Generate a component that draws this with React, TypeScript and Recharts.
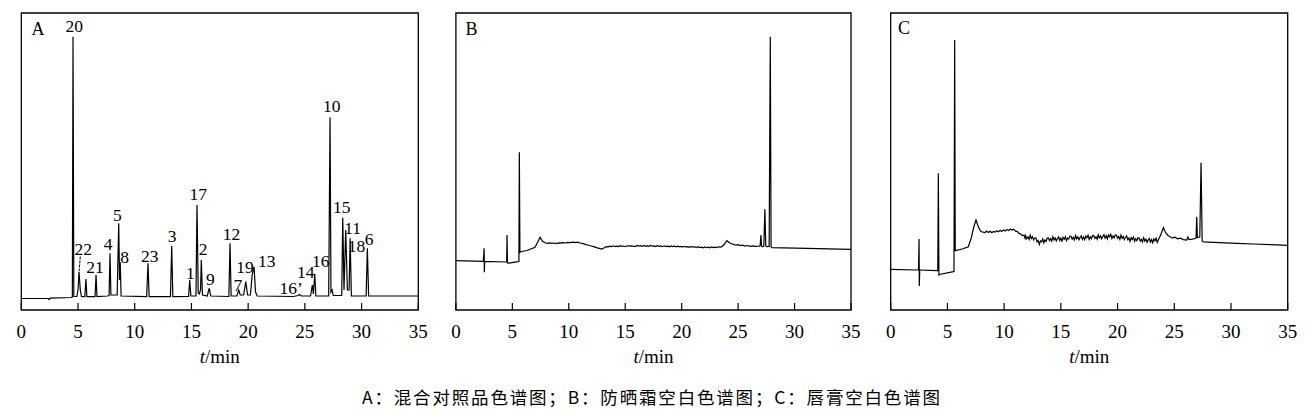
import React from 'react';
import { ComposedChart, Line, Scatter, XAxis, YAxis, ReferenceArea, ReferenceLine, Label } from 'recharts';

// retention time axis (min)
const timeTicks = [0, 5, 10, 15, 20, 25, 30, 35];

// Panel A: mixed standard chromatogram [time, signal]
const traceA: [number, number][] = [
  [0, 11.5], [2.4, 11.5], [2.45, 10.3], [2.55, 11.8], [4.4, 12.5],
  [4.5, 13], [4.56, 273.3], [4.63, 13.5],
  [4.9, 13.5], [5.0, 20], [5.09, 38.3], [5.2, 20], [5.3, 13.5],
  [5.6, 13.3], [5.7, 31], [5.78, 13.3],
  [6.5, 13.3], [6.59, 35], [6.67, 13.3],
  [7.6, 14], [7.74, 14.5], [7.82, 56.7], [7.9, 15],
  [8.45, 15], [8.59, 86.7], [8.66, 30], [8.72, 48], [8.8, 14],
  [11.05, 13.3], [11.17, 46.7], [11.27, 13.3],
  [13.15, 13.3], [13.26, 64], [13.36, 13.3],
  [14.75, 13.5], [14.85, 30], [14.95, 14],
  [15.4, 14], [15.49, 105], [15.6, 17], [15.7, 16], [15.8, 20], [15.87, 50], [15.97, 15],
  [16.4, 14], [16.5, 19], [16.58, 21.7], [16.7, 14],
  [18.3, 13.5], [18.4, 66.7], [18.5, 14],
  [19.0, 14], [19.17, 20], [19.3, 15], [19.6, 15], [19.79, 28.3], [19.95, 15],
  [20.2, 15], [20.35, 35], [20.45, 40], [20.52, 43.3], [20.65, 18], [20.8, 14],
  [24.0, 13.5], [24.4, 14.5], [24.52, 15.5], [24.7, 14],
  [25.5, 14], [25.66, 25], [25.75, 16], [25.87, 36], [25.97, 14],
  [27.1, 14], [27.22, 192.7], [27.3, 18], [27.4, 20], [27.5, 14.5],
  [28.25, 14.5], [28.34, 92.3], [28.45, 20], [28.6, 80], [28.75, 20], [28.9, 20], [28.99, 71.7], [29.1, 14],
  [30.4, 14], [30.51, 61.7], [30.62, 14],
  [35, 14],
];

// Peak numbers of panel A, anchored at [time, signal]
const peakNames = ['20', '22', '21', '4', '5', '8', '23', '3', '1', '17', '2', '9', '12', '7', '19', '13', '16\u2019', '14', '16', '10', '15', '11', '18', '6'];
const peakLabelTimes = [4.66, 5.46, 6.5, 7.65, 8.47, 9.1, 11.32, 13.29, 14.9, 15.61, 16.02, 16.68, 18.54, 19.1, 19.72, 21.64, 23.8, 25.08, 26.41, 27.37, 28.25, 29.21, 29.55, 30.66];
const peakLabelSignals = [278.3, 55, 36.7, 60, 89.3, 46.7, 48.3, 68.3, 30.7, 110, 55, 25, 70, 19.5, 37, 43.3, 16.2, 32.5, 43.3, 198.3, 96.7, 76, 58.5, 65];

// Panel B: sunscreen blank
const traceB: [number, number][] = [
  [0, 49.3], [2.43, 48.7], [2.5, 61.7], [2.52, 37.7], [2.55, 48.7], [4.44, 48], [4.5, 48], [4.53, 75], [4.57, 47], [4.7, 46.8],
  [5.5, 48.3], [5.58, 48.5], [5.62, 157.7], [5.67, 57.5], [5.74, 58.3], [6.3, 59.5], [7.01, 62.7], [7.25, 68], [7.46, 72.7], [7.65, 69], [7.9, 67.3],
  [8.1, 66.6], [8.3, 67.2], [8.5, 66.7], [8.7, 67.0], [8.93, 66.4], [9.1, 67.1], [9.3, 66.8], [9.5, 67.4], [9.7, 67.0], [9.9, 67.6],
  [10.1, 67.3], [10.41, 67.9], [10.6, 67.4], [10.8, 67.8], [11.0, 67.0], [11.3, 66.3], [11.5, 65.4], [11.7, 65.0], [11.9, 64.2], [12.19, 63.3],
  [12.4, 62.6], [12.6, 61.8], [12.8, 61.3], [12.93, 61.0], [13.1, 62.0], [13.3, 63.4], [13.5, 63.1], [13.66, 63.9], [13.8, 63.3], [13.95, 64.2],
  [14.1, 63.5], [14.25, 63.9], [14.4, 63.4], [14.55, 64.3], [14.7, 63.7], [14.85, 64.0], [15.0, 63.3], [15.15, 64.2], [15.3, 63.8], [15.45, 64.4],
  [15.6, 63.6], [15.75, 64.0], [15.9, 63.5], [16.05, 64.5], [16.2, 63.9], [16.35, 64.3], [16.5, 63.6], [16.65, 64.6], [16.8, 63.9], [16.95, 64.2],
  [17.1, 63.7], [17.25, 64.5], [17.4, 63.8], [17.55, 64.1], [17.7, 63.5], [17.85, 64.3], [18.0, 63.6], [18.15, 64.0], [18.3, 63.3], [18.45, 64.2],
  [18.6, 63.5], [18.75, 63.9], [18.9, 63.2], [19.05, 64.1], [19.2, 63.4], [19.35, 63.8], [19.5, 63.1], [19.65, 63.9], [19.8, 63.2], [19.95, 63.6],
  [20.1, 62.9], [20.25, 63.7], [20.4, 63.0], [20.55, 63.4], [20.7, 62.6], [20.85, 63.5], [21.0, 62.8], [21.15, 63.2], [21.3, 62.4], [21.45, 63.3],
  [21.6, 62.5], [21.75, 62.9], [21.9, 62.2], [22.05, 63.1], [22.2, 62.3], [22.35, 62.8], [22.5, 62.2], [22.65, 63.0], [22.8, 62.4], [22.95, 62.9],
  [23.1, 62.5], [23.25, 63.2], [23.4, 62.8], [23.56, 63.3], [23.8, 66], [24.01, 69.3], [24.2, 67.5],
  [24.4, 66.2], [24.6, 65.7], [24.8, 64.8], [25.0, 65.3], [25.2, 64.4], [25.4, 64.9], [25.6, 64.0], [25.8, 64.5], [26.07, 63.7], [26.3, 64.2],
  [26.5, 63.6], [26.81, 63.8], [26.95, 64], [27.02, 75], [27.08, 64], [27.14, 63.3], [27.28, 64], [27.37, 100.7], [27.45, 64], [27.55, 63.3],
  [27.75, 63.5], [27.85, 273.3], [27.92, 63], [27.99, 62.3], [29, 62.2], [31.1, 61.7], [33, 61.2], [35, 60.7],
];

// Panel C: lipstick blank
const traceC: [number, number][] = [
  [0, 40.7], [2.29, 40], [2.45, 40], [2.5, 71], [2.52, 24], [2.56, 40], [2.64, 40], [4.06, 39.3], [4.15, 39.3], [4.2, 136.7],
  [4.25, 35], [4.3, 35.5], [5.52, 38.3], [5.58, 38.5], [5.64, 270], [5.69, 59.3], [5.73, 59.3], [6.3, 61], [6.84, 63.3], [7.1, 72],
  [7.35, 84], [7.52, 90], [7.7, 84], [7.95, 78.5], [8.15, 77.8],
  [8.32, 77.3], [8.45, 78.9], [8.6, 77.6], [8.75, 78.8], [8.9, 77.5], [9.05, 78.4], [9.2, 77.9], [9.35, 79.2], [9.5, 78.3], [9.65, 79.7],
  [9.8, 78.6], [9.95, 80.1], [10.1, 79.0], [10.25, 80.6], [10.4, 79.5], [10.55, 81.0], [10.7, 79.9], [10.85, 80.8], [11.0, 78.9], [11.15, 78.6],
  [11.3, 76.6], [11.45, 76.2], [11.6, 74.4], [11.75, 74.9], [11.85, 71.5],
  [11.9, 74.3], [12.0, 71.3], [12.1, 73.1], [12.2, 70.5], [12.3, 74.9], [12.4, 71.5], [12.5, 73.4], [12.6, 70.2], [12.7, 72.0], [12.8, 72.1],
  [12.9, 68.0], [13.0, 69.5], [13.1, 65.5], [13.2, 69.0], [13.3, 68.2], [13.4, 71.0], [13.5, 67.2], [13.6, 70.1], [13.7, 68.6], [13.8, 71.9],
  [13.9, 72.0], [14.0, 69.3], [14.1, 71.4], [14.2, 68.8], [14.3, 73.3], [14.4, 70.1], [14.5, 72.1], [14.6, 69.1], [14.7, 71.4], [14.8, 73.1],
  [14.9, 69.5], [15.0, 71.9], [15.1, 68.8], [15.2, 72.6], [15.3, 70.8], [15.4, 73.3], [15.5, 69.3], [15.6, 71.9], [15.7, 70.9], [15.8, 73.9],
  [15.9, 73.8], [16.0, 70.8], [16.1, 72.6], [16.2, 70.0], [16.3, 74.4], [16.4, 71.2], [16.5, 73.2], [16.6, 70.2], [16.7, 72.5], [16.8, 74.2],
  [16.9, 70.6], [17.0, 73.0], [17.1, 70.2], [17.2, 74.0], [17.3, 72.2], [17.4, 74.7], [17.5, 70.6], [17.6, 73.2], [17.7, 71.4], [17.8, 74.5],
  [17.9, 74.4], [18.0, 71.5], [18.1, 73.3], [18.2, 70.8], [18.3, 75.2], [18.4, 72.1], [18.5, 74.1], [18.6, 71.2], [18.7, 73.5], [18.8, 75.3],
  [18.9, 71.8], [19.0, 74.3], [19.1, 71.1], [19.2, 75.0], [19.3, 73.2], [19.4, 75.7], [19.5, 71.5], [19.6, 74.0], [19.7, 72.2], [19.8, 75.1],
  [19.9, 74.8], [20.0, 71.7], [20.1, 73.4], [20.2, 70.7], [20.3, 74.9], [20.4, 71.6], [20.5, 73.5], [20.6, 70.4], [20.7, 72.5], [20.8, 74.1],
  [20.9, 70.4], [21.0, 71.9], [21.1, 68.7], [21.2, 72.4], [21.3, 70.5], [21.4, 72.9], [21.5, 68.7], [21.6, 71.2], [21.7, 69.3], [21.8, 72.2],
  [21.9, 72.0], [22.0, 68.9], [22.1, 70.7], [22.2, 68.0], [22.3, 72.3], [22.4, 69.0], [22.5, 70.9], [22.6, 67.8], [22.7, 69.9], [22.8, 71.6],
  [22.9, 68.0], [23.0, 70.4], [23.1, 67.2], [23.2, 71.0], [23.3, 69.2], [23.4, 71.7], [23.5, 67.6], [23.6, 70.2], [23.8, 75],
  [24.04, 82.3], [24.25, 77], [24.45, 74.5], [24.63, 73.3], [24.85, 72.0], [25.05, 72.8], [25.3, 71.2], [25.55, 71.8], [25.8, 70.4], [26.1, 70.0],
  [26.2, 73], [26.3, 70.5], [26.6, 70.8], [26.83, 71.5], [26.92, 72], [26.98, 93.3], [27.04, 72.5], [27.13, 72.7], [27.25, 73], [27.36, 147.3],
  [27.46, 69], [27.56, 68], [28, 67.8], [29, 67.3], [30.51, 66.7], [32, 66.0], [33.5, 65.4], [35, 64.7],
];

const panelLetters = ['A', 'B', 'C'];
const caption = 'A\uFF1A混合对照品色谱图\uFF1BB\uFF1A防晒霜空白色谱图\uFF1BC\uFF1A唇膏空白色谱图';

const SERIF = "'Liberation Serif', 'DejaVu Serif', serif";

const TimeTick = (props: any) => {
  const { x, y, payload } = props;
  return (
    <g>
      <line x1={x} y1={y} x2={x} y2={y - 7} stroke="#000" strokeWidth={1.2} />
      <text x={x} y={y + 28} textAnchor="middle" style={{ fontFamily: SERIF }} fontSize={19} fill="#000">
        {payload.value}
      </text>
    </g>
  );
};

const AxisTitle = (props: any) => {
  const vb = props.viewBox || {};
  return (
    <text x={vb.x + vb.width / 2} y={vb.y + 53} textAnchor="middle" style={{ fontFamily: SERIF }} fontSize={19} fill="#000">
      <tspan fontStyle="italic">t</tspan>/min
    </text>
  );
};

const PeakLabel = (props: any) => {
  const { cx, cy, payload } = props;
  return (
    <text x={cx} y={cy} textAnchor="middle" style={{ fontFamily: SERIF }} fontSize={17.5} fill="#000">
      {payload.name}
    </text>
  );
};

type PanelProps = {
  trace: [number, number][];
  labels?: { t: number; v: number; name: string }[];
  left: number;
  width: number;
  ml: number;
  mr: number;
  leader?: boolean;
};

function Panel({ trace, labels, left, width, ml, mr, leader }: PanelProps) {
  const data = trace.map(([t, v]) => ({ t, v }));
  return (
    <div style={{ position: 'absolute', left, top: 0 }}>
      <ComposedChart width={width} height={415} margin={{ top: 13, left: ml, right: mr, bottom: 45 }}>
        <XAxis
          dataKey="t"
          type="number"
          domain={[0, 35]}
          ticks={timeTicks}
          interval={0}
          axisLine={false}
          tickLine={false}
          tickSize={0}
          tickMargin={0}
          height={60}
          allowDataOverflow
          tick={(p: any) => <TimeTick {...p} />}
        >
          <Label content={AxisTitle} />
        </XAxis>
        <YAxis hide type="number" domain={[0, 297]} allowDataOverflow />
        <ReferenceArea x1={0} x2={35} y1={0} y2={297} fill="none" stroke="#000" strokeWidth={1.3} fillOpacity={0} />
        {leader && (
          <ReferenceLine segment={[{ x: 5.2, y: 53.5 }, { x: 5.1, y: 39 }]} stroke="#000" strokeWidth={1} strokeDasharray="3 1" />
        )}
        <Line
          data={data}
          dataKey="v"
          type="linear"
          stroke="#000"
          strokeWidth={1.2}
          dot={false}
          activeDot={false}
          isAnimationActive={false}
        />
        {labels && (
          <Scatter data={labels} dataKey="v" shape={(p: any) => <PeakLabel {...p} />} isAnimationActive={false} />
        )}
      </ComposedChart>
    </div>
  );
}

export default function App() {
  const labelsA = peakNames.map((name, i) => ({ t: peakLabelTimes[i], v: peakLabelSignals[i], name }));
  return (
    <div style={{ position: 'absolute', left: 0, top: 0, width: 1307, height: 415, background: '#fff', overflow: 'hidden' }}>
      <Panel trace={traceA} labels={labelsA} left={0} width={435} ml={21.3} mr={16.7} leader />
      <Panel trace={traceB} left={435} width={435} ml={20.9} mr={19} />
      <Panel trace={traceC} left={870} width={437} ml={20.7} mr={19.3} />
      <svg width={1307} height={415} style={{ position: 'absolute', left: 0, top: 0, pointerEvents: 'none' }}>
        <text x={31.5} y={35} style={{ fontFamily: SERIF }} fontSize={18} fill="#000">{panelLetters[0]}</text>
        <text x={465.5} y={35} style={{ fontFamily: SERIF }} fontSize={18} fill="#000">{panelLetters[1]}</text>
        <text x={898} y={34} style={{ fontFamily: SERIF }} fontSize={18} fill="#000">{panelLetters[2]}</text>
        <text
          x={651}
          y={404}
          textAnchor="middle"
          style={{ fontFamily: "'Noto Sans CJK SC', 'Liberation Serif', serif" }}
          fontSize={17.5}
          textLength={578}
          lengthAdjust="spacing"
          fill="#000"
        >
          {caption}
        </text>
      </svg>
    </div>
  );
}
